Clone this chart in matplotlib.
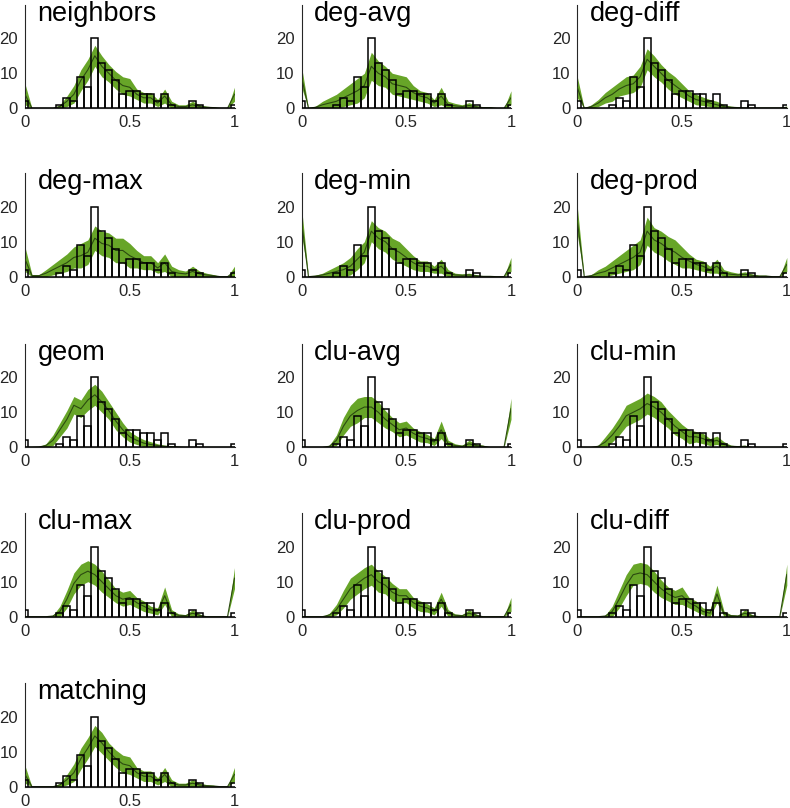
import numpy as np
import matplotlib
matplotlib.use('Agg')
from matplotlib import pyplot as plt

plt.rcParams['font.family'] = ['Liberation Sans', 'DejaVu Sans']

# observed histogram, bins centred on k/30
bin_centers = np.arange(31) / 30.0
hist_counts = [2, 0, 0, 0, 0, 1, 3, 2, 9, 6, 20, 13, 11, 8, 4, 5, 5, 4, 4, 2,
               4, 1, 0, 0, 2, 1, 0, 0, 0, 0, 1]

# model mean and spread per panel (same bins)
neighbors_mean = [4, 0, 0, 0, 0, 0.5, 2, 4, 8, 11, 15, 12, 10, 8, 6.5, 6, 4, 3, 3, 1.5,
                  3.5, 1, 0.5, 0.5, 1, 0.5, 0.3, 0.2, 0, 0, 4]
neighbors_sd = [3, 0, 0, 0, 0, 0.5, 1.5, 2.5, 3, 3, 3, 3, 2.5, 2.5, 2.5, 2.5, 1.5, 1.5, 1.5, 1,
                2, 1, 0.5, 0.5, 1, 0.5, 0.3, 0.2, 0, 0, 2]

degavg_mean = [9, 0, 0.3, 1, 1.5, 2, 3, 4, 5, 6.5, 12, 10, 9, 7, 6.5, 6, 4.5, 3.5, 3, 1.5,
               3.5, 1, 0.7, 0.5, 0.8, 0.4, 0.2, 0.2, 0, 0, 3]
degavg_sd = [3, 0, 0.3, 1, 1.5, 2, 2.5, 3, 3.5, 3.5, 4, 3.5, 3, 3, 3, 3, 2, 1.5, 1.5, 1,
             2.5, 1, 0.7, 0.5, 0.8, 0.4, 0.2, 0.2, 0, 0, 2]

degdiff_mean = [6, 0, 0.5, 1.5, 3, 4, 5.5, 6.5, 7, 9, 14, 12, 10, 8, 6.5, 5, 3.5, 2.5, 2, 1.5,
                1, 0.5, 0.3, 0.2, 0.1, 0.1, 0.1, 0.1, 0.1, 0.1, 0.3]
degdiff_sd = [3, 0, 0.5, 1, 1.5, 2, 2, 2.5, 2.5, 3, 3, 3, 2.5, 2.5, 2.5, 2, 1.5, 1.5, 1.2, 1,
              1, 0.5, 0.3, 0.2, 0.1, 0.1, 0.1, 0.1, 0.1, 0.1, 0.3]

degmax_mean = [5, 0.3, 0.3, 1, 2, 3, 4, 5.5, 6, 7, 11, 9.5, 9, 7.5, 7.5, 6, 5, 4, 4, 2.5,
               4, 1.5, 1, 0.8, 1.5, 0.8, 0.5, 0.3, 0, 0, 1.5]
degmax_sd = [3.5, 0.3, 0.3, 1, 1.5, 2, 2.5, 3, 3.5, 3.5, 3.5, 3.5, 3.5, 3.5, 3.5, 3.5, 2.5, 2, 2, 1.5,
             2.5, 1.5, 1, 0.8, 1.5, 0.8, 0.5, 0.3, 0, 0, 1.5]

degmin_mean = [16, 0, 0.2, 0.5, 1, 1.5, 2, 3, 5, 7, 13, 11, 10, 8, 7, 5.5, 4, 3, 3, 2,
               3, 1, 0.5, 0.4, 0.5, 0.3, 0.1, 0.1, 0, 0, 3.5]
degmin_sd = [4, 0, 0.2, 0.5, 1, 1.5, 2, 2.5, 3, 3, 3, 3, 3, 3, 3, 2.5, 2, 1.5, 1.5, 1,
             2, 1, 0.5, 0.4, 0.5, 0.3, 0.1, 0.1, 0, 0, 2]

degprod_mean = [16, 0, 0.3, 1, 1.5, 2.5, 3.5, 4.5, 5.5, 7, 13, 10.5, 9.5, 8, 7, 5.5, 4.5, 3.5, 3, 2,
                3, 1, 0.7, 0.5, 0.7, 0.4, 0.2, 0.2, 0, 0, 3.5]
degprod_sd = [4, 0, 0.3, 1, 1.5, 2, 2.5, 3, 3.5, 3.5, 4, 3.5, 3.5, 3.5, 3.5, 3, 2, 1.5, 1.5, 1,
              2, 1, 0.7, 0.5, 0.7, 0.4, 0.2, 0.2, 0, 0, 2]

geom_mean = [0, 0, 0.1, 0.5, 2, 5, 8, 12, 11, 13.5, 15, 13, 10.5, 7.5, 5, 3, 2, 1.2, 0.8, 0.5,
             0.3, 0.2, 0.1, 0, 0, 0, 0, 0, 0, 0, 0]
geom_sd = [0, 0, 0.1, 0.5, 1.5, 2, 2.5, 2.5, 2.5, 3, 3, 3, 2.5, 2.5, 2, 1.5, 1.2, 1, 0.8, 0.5,
           0.3, 0.2, 0.1, 0, 0, 0, 0, 0, 0, 0, 0]

cluavg_mean = [0, 0, 0, 0, 0.3, 2, 6, 9, 10.5, 11.5, 11.5, 10, 8, 6.5, 5, 5.5, 4, 3, 2.5, 1.5,
               5, 1, 0.5, 0.3, 1, 0.5, 0.3, 0, 0, 0, 11]
cluavg_sd = [0, 0, 0, 0, 0.3, 1.5, 2.5, 3, 3.5, 3, 3, 3, 2.5, 2, 2, 2, 1.5, 1.5, 1.2, 1,
             2.5, 1, 0.5, 0.3, 1, 0.5, 0.3, 0, 0, 0, 3]

clumin_mean = [0, 0, 0, 0.3, 1.5, 3.5, 6, 9, 10, 11, 12.5, 11.5, 10, 8, 6, 4.5, 3, 3, 2.5, 1.5,
               2, 0.8, 0.3, 0.2, 0.3, 0, 0, 0, 0, 0, 0]
clumin_sd = [0, 0, 0, 0.3, 1.5, 2, 2.5, 3, 3, 3, 3, 3, 3, 2.5, 2.5, 2, 2, 1.5, 1.5, 1,
             1.2, 0.8, 0.3, 0.2, 0.3, 0, 0, 0, 0, 0, 0]

clumax_mean = [0, 0, 0, 0, 0.2, 1.5, 5, 9.5, 12, 13, 12, 10, 8, 6, 5, 5.5, 4, 3, 2, 1.5,
               6, 1, 0.4, 0.3, 1, 0.4, 0, 0, 0, 0, 11]
clumax_sd = [0, 0, 0, 0, 0.2, 1.5, 2.5, 3, 3, 3, 3, 3, 2.5, 2, 2, 2, 1.5, 1.5, 1, 1,
             2.5, 1, 0.4, 0.3, 1, 0.4, 0, 0, 0, 0, 3]

cluprod_mean = [0, 0, 0, 0, 0.5, 2, 5, 8, 9.5, 11, 12, 10, 9, 7, 6, 6, 4, 3, 2.5, 1.5,
                5, 1, 0.4, 0.3, 1, 0.4, 0, 0, 0, 0, 3.5]
cluprod_sd = [0, 0, 0, 0, 0.5, 1.5, 2.5, 3, 3, 3, 3, 3, 2.5, 2.5, 2, 2, 1.5, 1.5, 1.2, 1,
              2, 1, 0.4, 0.3, 1, 0.4, 0, 0, 0, 0, 2]

cludiff_mean = [0, 0, 0, 0, 0.2, 1.5, 5, 9, 12, 12.5, 12, 10, 8, 6.5, 5.5, 6, 4, 3, 1.5, 1,
                6.5, 0.8, 0.3, 0.2, 1, 0.3, 0, 0, 0, 0, 12]
cludiff_sd = [0, 0, 0, 0, 0.2, 1.5, 2.5, 3, 3, 3, 3, 3, 2.5, 2, 2, 2.5, 1.5, 1.5, 1, 1,
              2.5, 0.8, 0.3, 0.2, 1, 0.3, 0, 0, 0, 0, 3]

matching_mean = [3.5, 0, 0, 0, 0, 0.5, 2, 4, 8, 11, 14.5, 12.5, 10, 8, 6.5, 6, 4, 3, 3, 1.5,
                 3.5, 1, 0.5, 0.5, 1, 0.5, 0.3, 0.2, 0, 0, 3.5]
matching_sd = [2.5, 0, 0, 0, 0, 0.5, 1.5, 2.5, 3, 3, 3, 3, 2.5, 2.5, 2.5, 2.5, 1.5, 1.5, 1.5, 1,
               2, 1, 0.5, 0.5, 1, 0.5, 0.3, 0.2, 0, 0, 2]

panels = [
    ('neighbors', neighbors_mean, neighbors_sd),
    ('deg-avg', degavg_mean, degavg_sd),
    ('deg-diff', degdiff_mean, degdiff_sd),
    ('deg-max', degmax_mean, degmax_sd),
    ('deg-min', degmin_mean, degmin_sd),
    ('deg-prod', degprod_mean, degprod_sd),
    ('geom', geom_mean, geom_sd),
    ('clu-avg', cluavg_mean, cluavg_sd),
    ('clu-min', clumin_mean, clumin_sd),
    ('clu-max', clumax_mean, clumax_sd),
    ('clu-prod', cluprod_mean, cluprod_sd),
    ('clu-diff', cludiff_mean, cludiff_sd),
    ('matching', matching_mean, matching_sd),
]

W, H = 790, 808
fig = plt.figure(figsize=(W / 100, H / 100), dpi=100)

col_left = [25, 301.5, 577.3]
row_zero = [108.3, 276.7, 447.3, 616.7, 786.7]
ax_w, ax_h = 209.5, 103.3

band_color = '#67a528'
line_color = '#2b4a10'

for i, (name, mean, sd) in enumerate(panels):
    r, c = divmod(i, 3)
    ax = fig.add_axes([col_left[c] / W, 1 - row_zero[r] / H, ax_w / W, ax_h / H])
    m = np.array(mean, dtype=float)
    s = np.array(sd, dtype=float)
    lo = np.clip(m - s, 0, None)
    hi = m + s
    # white bar faces underneath, band over them, outlines on top
    ax.bar(bin_centers, hist_counts, width=1 / 30, facecolor='white',
           edgecolor='none', zorder=1)
    ax.fill_between(bin_centers, lo, hi, color=band_color, lw=0, zorder=2)
    ax.plot(bin_centers, m, color=line_color, lw=0.8, zorder=3)
    ax.bar(bin_centers, hist_counts, width=1 / 30, facecolor='none',
           edgecolor='black', lw=1.1, zorder=4)

    ax.set_xlim(0, 1)
    ax.set_ylim(0, 29.5)
    ax.set_xticks([0, 0.5, 1])
    ax.set_xticklabels(['0', '0.5', '1'])
    ax.set_yticks([0, 10, 20])
    for sp in ['top', 'right']:
        ax.spines[sp].set_visible(False)
    for sp in ['left', 'bottom']:
        ax.spines[sp].set_color('#262626')
        ax.spines[sp].set_linewidth(0.8)
    ax.tick_params(length=0, labelsize=12, colors='#262626', pad=5)
    ax.text(0.06, 25, name, fontsize=19.5, va='baseline', ha='left')

fig.savefig('out.png', dpi=100)
